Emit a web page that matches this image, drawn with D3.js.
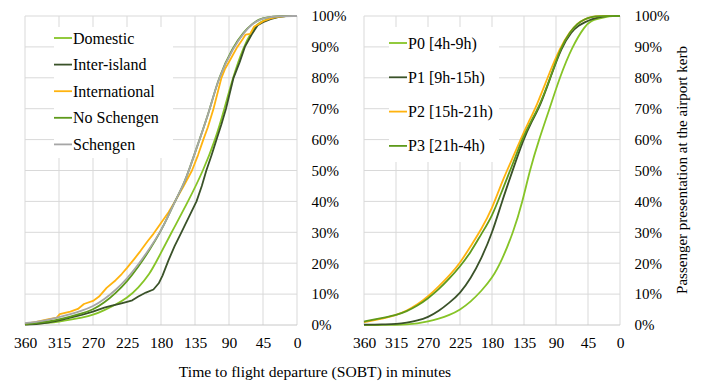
<!DOCTYPE html>
<html>
<head>
<meta charset="utf-8">
<script src="https://cdn.jsdelivr.net/npm/d3@7/dist/d3.min.js"></script>
<style>
  body { margin: 0; background: #fff; }
</style>
</head>
<body>
<div id="chart"></div>
<script>
// minutes before SOBT -> cumulative % of passengers at the kerb
var minuteTicks = [360, 315, 270, 225, 180, 135, 90, 45, 0];
var pctTicks = [0, 10, 20, 30, 40, 50, 60, 70, 80, 90, 100];

// left panel: by flight type
var domestic = [[360,0.2],[345,0.4],[330,0.7],[315,1.1],[300,1.7],[285,2.4],[270,3.2],[255,4.8],[240,6.6],[225,8.7],[210,12],[195,16.5],[185,21],[166,30],[144,40],[124,50],[108,60],[96,70],[85,80],[71,90],[60,95],[52,97.5],[45,98.5],[35,99.3],[25,99.8],[15,100],[0,100]];
var interIsland = [[360,0.1],[345,0.3],[330,0.8],[315,1.5],[300,2.4],[285,3.3],[270,4.3],[255,5.6],[245,6.3],[235,6.8],[225,7.5],[218,8],[210,9.2],[200,10.5],[190,11.5],[183,13.5],[178,16],[170,21],[162,25.5],[153,30],[143,35],[133,40],[126,45],[120,50],[113,55],[106.5,60],[100,65],[94,70],[89,75],[84,80],[76,85],[69,90],[60,94],[52,97],[45,98],[35,99],[25,99.6],[15,100],[0,100]];
var international = [[360,0.4],[345,1.0],[330,1.8],[318,2.4],[314,3.5],[300,4.3],[290,5.2],[282,6.8],[270,7.8],[262,9.2],[252,12],[240,14.5],[232,16.5],[225,18.5],[215,21.5],[207,24],[198,27],[190,29.5],[180,33],[170,36.5],[161.5,40],[150,45],[139,50],[131,55],[124,60],[118,64],[110.5,70],[100,80],[95,83],[88,86],[79,90],[72,92.5],[68,94],[62,94.2],[57,96.5],[50,97.5],[45,98.3],[35,99.2],[25,99.7],[15,100],[0,100]];
var noSchengen = [[360,0.3],[345,0.6],[330,1.1],[315,1.8],[300,2.7],[285,3.7],[270,4.9],[255,7.2],[240,10.3],[225,14],[210,18.8],[195,24.3],[181,30],[170,35.5],[161.5,40],[150,45.5],[143,50],[129,60],[115,70],[104,80],[85,90],[70,95],[60,97.3],[50,99],[40,99.6],[25,100],[0,100]];
var schengen = [[360,0.6],[345,1.0],[330,1.6],[315,2.5],[300,3.5],[285,4.6],[270,6.0],[255,8.3],[240,11.3],[225,15],[210,19.5],[195,24.8],[181,30],[170,35.5],[161.5,40],[150,45.5],[143,50],[129,60],[115,70],[104,80],[84,90],[69,95],[60,97.3],[50,98.8],[40,99.5],[25,100],[0,100]];

// right panel: by period of the day
var p0 = [[360,0],[330,0],[315,0.05],[300,0.2],[285,0.5],[270,1.1],[255,2.0],[240,3.2],[225,4.9],[210,7.5],[195,11],[180,15],[166,21],[150,30],[137,40],[127,50],[114,60],[99,70],[85,80],[67.5,90],[49,97],[40,98.5],[32,99],[20,99.7],[10,100],[0,100]];
var p1 = [[360,0.1],[345,0.15],[330,0.2],[315,0.3],[300,0.7],[285,1.4],[270,2.5],[255,4.5],[240,7.2],[225,10.2],[210,15],[195,21.5],[180,29.5],[166,40],[151,50],[136,60],[124,66],[112,71],[98,80],[82,90],[68,95],[58,97],[49,98],[40,99],[30,99.6],[20,100],[0,100]];
var p2 = [[360,0.9],[345,1.6],[330,2.3],[315,3.2],[300,4.6],[285,6.6],[270,9.2],[255,12.5],[240,16],[225,20],[210,25.5],[195,31],[180,37.5],[165,47],[150,54.5],[140,60],[129,65.5],[117,71],[102,80],[84,90],[70,95],[60,97.7],[49,99],[40,99.8],[30,100],[0,100]];
var p3 = [[360,1.1],[345,1.8],[330,2.5],[315,3.2],[300,4.4],[285,6.2],[270,8.6],[255,11.5],[240,15],[225,18.9],[210,23.5],[195,29.5],[180,35],[165,44],[150,52.5],[138,60],[125,66],[113,71],[98,80],[83,90],[70,95],[60,97.5],[50,99],[40,99.7],[30,100],[0,100]];

var leftSeries = [
  {name:'Domestic', data:domestic, color:'#86c427', smooth:true},
  {name:'Inter-island', data:interIsland, color:'#3a5229', smooth:false},
  {name:'International', data:international, color:'#ffb30f', smooth:false},
  {name:'No Schengen', data:noSchengen, color:'#5e9a1b', smooth:true},
  {name:'Schengen', data:schengen, color:'#a6a6a6', smooth:true}
];
var rightSeries = [
  {name:'P0 [4h-9h)', data:p0, color:'#86c427', smooth:true},
  {name:'P1 [9h-15h)', data:p1, color:'#3a5229', smooth:true},
  {name:'P2 [15h-21h)', data:p2, color:'#ffb30f', smooth:true},
  {name:'P3 [21h-4h)', data:p3, color:'#5e9a1b', smooth:true}
];

var FONT = "'Liberation Serif'";
var W = 704, H = 381;
var svg = d3.select('#chart').append('svg')
  .attr('width', W).attr('height', H);

var plotTop = 16, plotBottom = 325;

function label(sel, size) {
  return sel.attr('font-family', FONT).attr('font-size', size).attr('fill', '#000');
}

function panel(x0, x1, series, legend) {
  var x = d3.scaleLinear().domain([360, 0]).range([x0, x1]);
  var y = d3.scaleLinear().domain([0, 100]).range([plotBottom, plotTop]);
  var g = svg.append('g');

  // grid
  g.selectAll('.vg').data(minuteTicks).enter().append('line')
    .attr('x1', d => x(d)).attr('x2', d => x(d))
    .attr('y1', plotTop).attr('y2', plotBottom)
    .attr('stroke', '#d9d9d9').attr('stroke-width', 1);
  g.selectAll('.hg').data(pctTicks).enter().append('line')
    .attr('x1', x0).attr('x2', x1)
    .attr('y1', d => y(d)).attr('y2', d => y(d))
    .attr('stroke', d => d === 0 ? '#c8c8c8' : '#d9d9d9').attr('stroke-width', 1);

  // legend box hides grid behind it
  g.append('rect')
    .attr('x', legend.x).attr('y', legend.y)
    .attr('width', legend.w).attr('height', legend.h)
    .attr('fill', '#fff');

  var smoothLine = d3.line().x(d => x(d[0])).y(d => y(d[1])).curve(d3.curveBasis);
  var rawLine = d3.line().x(d => x(d[0])).y(d => y(d[1]));

  g.selectAll('.curve').data(series).enter().append('path')
    .attr('d', d => d.smooth ? smoothLine(d.data) : rawLine(d.data))
    .attr('fill', 'none')
    .attr('stroke', d => d.color)
    .attr('stroke-width', 1.8)
    .attr('stroke-linejoin', 'round');

  // axes
  var ax = g.append('g').attr('transform', 'translate(0,' + plotBottom + ')')
    .call(d3.axisBottom(x).tickValues(minuteTicks).tickSize(0).tickPadding(12));
  ax.select('.domain').remove();
  label(ax.selectAll('text'), 15.5);

  var ay = g.append('g').attr('transform', 'translate(' + x1 + ',0)')
    .call(d3.axisRight(y).tickValues(pctTicks).tickSize(0).tickPadding(14.5)
      .tickFormat(d => d + '%'));
  ay.select('.domain').remove();
  label(ay.selectAll('text'), 15);

  // legend entries
  var le = g.selectAll('.le').data(series).enter().append('g')
    .attr('transform', (d, i) => 'translate(' + legend.lx + ',' + (legend.ly + i * legend.step) + ')');
  le.append('line').attr('x1', 0).attr('x2', 18).attr('y1', 0).attr('y2', 0)
    .attr('stroke', d => d.color).attr('stroke-width', 1.8);
  label(le.append('text').attr('x', 19).attr('y', 5.5).text(d => d.name), 16);
}

panel(25, 297, leftSeries, {x:54, y:27, w:119, h:131, lx:54, ly:38, step:26.6});
panel(364, 620, rightSeries, {x:389, y:27, w:110, h:135, lx:389, ly:43, step:34.3});

label(svg.append('text'), 15.6)
  .attr('x', 315).attr('y', 377)
  .attr('text-anchor', 'middle')
  .text('Time to flight departure (SOBT) in minutes');

label(svg.append('text'), 15)
  .attr('transform', 'translate(687,170) rotate(-90)')
  .attr('text-anchor', 'middle')
  .text('Passenger presentation at the airport kerb');
</script>
</body>
</html>
